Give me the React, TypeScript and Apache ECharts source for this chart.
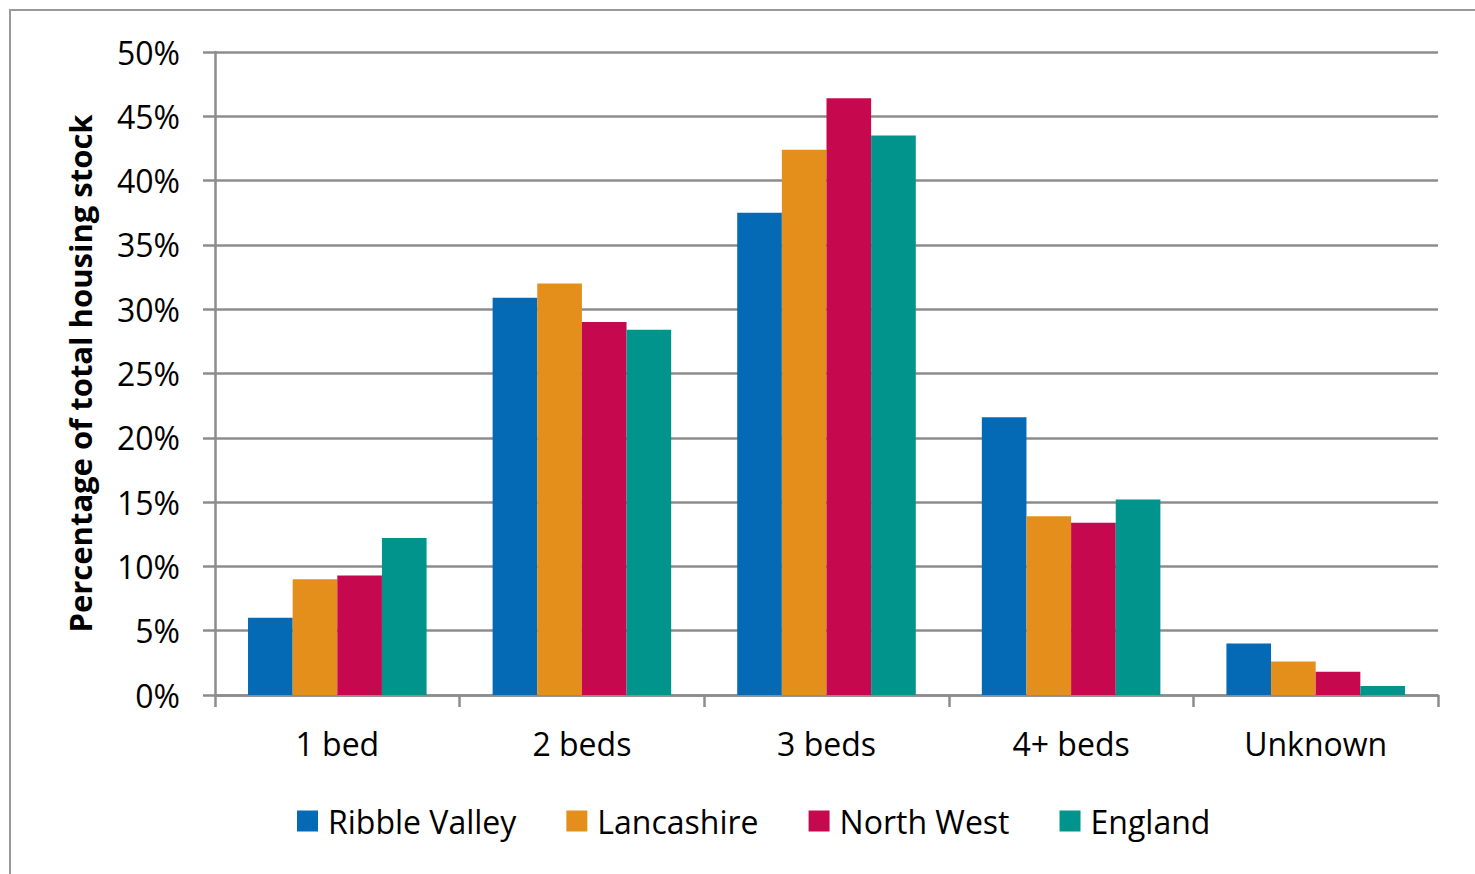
import React, { useEffect, useRef } from "react";
import * as echarts from "echarts";

const categories = ["1 bed", "2 beds", "3 beds", "4+ beds", "Unknown"];
const seriesNames = ["Ribble Valley", "Lancashire", "North West", "England"];
const ribbleValley = [6.0, 30.9, 37.5, 21.6, 4.0];
const lancashire = [9.0, 32.0, 42.4, 13.9, 2.6];
const northWest = [9.3, 29.0, 46.4, 13.4, 1.8];
const england = [12.2, 28.4, 43.5, 15.2, 0.7];
const colors = ["#056ab5", "#e48e1c", "#c6084f", "#00948c"];

export default function App() {
  const ref = useRef<HTMLDivElement>(null);
  useEffect(() => {
    const chart = echarts.init(ref.current!, null, { renderer: "svg" });
    const font = "'Open Sans', Calibri, sans-serif";
    const data = [ribbleValley, lancashire, northWest, england];
    chart.setOption({
      animation: false,
      textStyle: { fontFamily: font },
      graphic: [
        {
          type: "rect",
          shape: { x: 10, y: 10, width: 1500, height: 900 },
          style: { fill: "none", stroke: "#999", lineWidth: 2 },
          silent: true,
        },
      ],
      legend: {
        bottom: 32,
        left: 292,
        itemWidth: 21,
        itemHeight: 21,
        itemGap: 50,
        icon: "rect",
        textStyle: { fontSize: 32, color: "#000", fontFamily: font, padding: [0, 0, 0, 5] },
        data: seriesNames,
      },
      grid: { left: 215, right: 37, top: 52, bottom: 179, containLabel: false },
      xAxis: {
        type: "category",
        data: categories,
        axisLine: { lineStyle: { color: "#8c8c8c", width: 2.5 } },
        axisTick: { show: true, length: 12, lineStyle: { color: "#8c8c8c", width: 2.5 } },
        axisLabel: { fontSize: 32, color: "#000", margin: 32, fontFamily: font },
      },
      yAxis: {
        type: "value",
        min: 0,
        max: 50,
        interval: 5,
        name: "Percentage of total housing stock",
        nameLocation: "middle",
        nameGap: 120,
        nameTextStyle: { fontSize: 31, fontWeight: "bold", color: "#000", fontFamily: font },
        axisLine: { show: true, lineStyle: { color: "#8c8c8c", width: 2.5 } },
        axisTick: { show: true, length: 12, lineStyle: { color: "#8c8c8c", width: 2.5 } },
        axisLabel: { fontSize: 32, color: "#000", margin: 35, formatter: "{value}%", fontFamily: font },
        splitLine: { lineStyle: { color: "#8c8c8c", width: 2.5 } },
      },
      series: seriesNames.map((name, i) => ({
        name,
        type: "bar",
        data: data[i],
        itemStyle: { color: colors[i] },
        barGap: "0%",
        barCategoryGap: "27%",
      })),
    });
    return () => chart.dispose();
  }, []);
  return (
    <div
      ref={ref}
      style={{ position: "absolute", left: 0, top: 0, width: 1475, height: 874 }}
    />
  );
}
